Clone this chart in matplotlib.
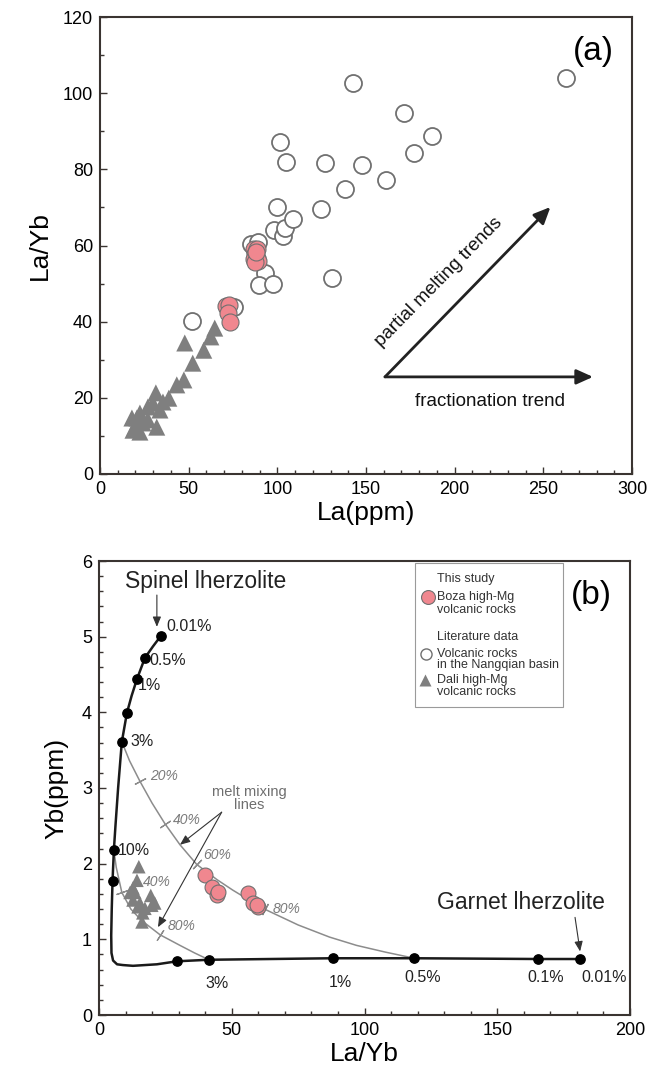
import numpy as np
import matplotlib
matplotlib.use("Agg")
import matplotlib.pyplot as plt
from matplotlib.patches import Rectangle
from matplotlib.ticker import MultipleLocator

plt.rcParams['font.family'] = ['Liberation Sans', 'DejaVu Sans']
NARROW = ['Liberation Sans Narrow', 'Liberation Sans', 'DejaVu Sans']

# ---- panel (a): La vs La/Yb ----
boza_la = [86.8, 88.5, 87.5, 86.9, 88.8, 89.2, 87.2, 88.0, 71.3, 73.0, 72.2, 73.5]
boza_lay = [59.2, 59.0, 57.8, 56.5, 56.8, 55.9, 55.6, 58.2, 44.0, 44.3, 42.3, 40.0]

lit_la = [51.8, 75.5, 85, 88.9, 92.8, 89.5, 97.4, 131, 97.9, 103, 104.1, 108.6, 99.6,
          124.4, 138.4, 101.3, 105, 126.6, 148, 161.5, 171.6, 187.4, 177, 142.4, 262.8]
lit_lay = [40.2, 43.8, 60.4, 60.9, 52.8, 49.6, 49.9, 51.4, 64.0, 62.5, 64.6, 66.9, 70.1,
           69.6, 74.8, 87.1, 81.9, 81.6, 81.1, 77.2, 94.7, 88.7, 84.2, 102.6, 103.9]

dali_la = [64.7, 62.5, 47.8, 58.5, 52.3, 47.3, 43.3, 38.8, 35.5, 31.5, 29.8, 27, 32,
           22.5, 20.8, 19.7, 18.6, 24.2, 27, 33.8, 18, 22.5]
dali_lay = [38.3, 36, 34.4, 32.5, 29.1, 24.7, 23.4, 19.9, 18.9, 21.3, 18.6, 17.6, 12.3,
            16, 14.7, 12.3, 11.5, 13.4, 14.2, 16.8, 14.7, 11]

# ---- panel (b): La/Yb vs Yb ----
boza_b_lay = [39.8, 42.5, 44.4, 44.7, 56, 57.9, 59.8, 59.4]
boza_b_yb = [1.85, 1.69, 1.59, 1.62, 1.61, 1.48, 1.43, 1.45]
dali_b_lay = [15, 14.3, 12.8, 11.7, 13.5, 19.5, 21, 12.8, 15.4, 17.3, 16.5, 16.2, 14.7, 19.9]
dali_b_yb = [1.96, 1.78, 1.68, 1.62, 1.62, 1.58, 1.48, 1.52, 1.48, 1.41, 1.35, 1.23, 1.43, 1.45]

# melting curve spinel -> garnet lherzolite
melt_lay = [23.3, 20.3, 17.3, 14.3, 12.3, 10.5, 8.6, 7.2, 6.2, 5.6, 5.1, 4.8, 4.6, 4.7,
            5.3, 6.8, 9.0, 12.8, 21.8, 29.4, 41.4, 88, 118.8, 165.4, 181.2]
melt_yb = [5.01, 4.87, 4.72, 4.44, 4.22, 3.99, 3.61, 3.0, 2.5, 2.18, 1.77, 1.4, 1.05, 0.82,
           0.72, 0.67, 0.66, 0.65, 0.67, 0.71, 0.73, 0.75, 0.75, 0.74, 0.74]

spinel_dot_lay = [23.3, 17.3, 14.3, 10.5, 8.6, 5.6, 5.1]
spinel_dot_yb = [5.01, 4.72, 4.44, 3.99, 3.61, 2.18, 1.77]
spinel_pct = ['0.01%', '0.5%', '1%', '', '3%', '10%', '']
garnet_dot_lay = [29.4, 41.4, 88, 118.8, 165.4, 181.2]
garnet_dot_yb = [0.71, 0.73, 0.75, 0.75, 0.74, 0.74]
garnet_pct = ['', '3%', '1%', '0.5%', '0.1%', '0.01%']

# melt mixing lines
mix1_lay = [8.6, 11.5, 15.4, 20.0, 24.8, 30.5, 36.8, 44.4, 50.4, 61.7, 75, 86.8, 97, 108, 118.8]
mix1_yb = [3.61, 3.36, 3.09, 2.80, 2.53, 2.25, 1.99, 1.79, 1.65, 1.41, 1.19, 1.03, 0.92, 0.83, 0.75]
mix1_tick_lay = [15.4, 24.8, 36.8, 62.5]
mix1_tick_yb = [3.09, 2.53, 1.99, 1.40]
mix1_tick_lbl = ['20%', '40%', '60%', '80%']

mix2_lay = [5.6, 6.5, 8.6, 12.0, 16.0, 23.0, 30.5, 36.0, 41.4]
mix2_yb = [2.18, 1.95, 1.62, 1.40, 1.25, 1.06, 0.92, 0.82, 0.73]
mix2_tick_lay = [8.6, 23.0]
mix2_tick_yb = [1.62, 1.06]
mix2_tick_lbl = ['40%', '80%']

PINK = '#f0878f'
GREY = '#7f7f7f'
EDGE = '#707070'
SPINE = '#3a3431'

fig = plt.figure(figsize=(6.51, 10.87), dpi=100)
ax1 = fig.add_axes([100 / 651, 1 - 474 / 1087, 532 / 651, 457 / 1087])
ax2 = fig.add_axes([99 / 651, 1 - 1015 / 1087, 531 / 651, 454 / 1087])


def style_axes(ax, xmaj, xmin, ymaj, ymin):
    for s in ax.spines.values():
        s.set_linewidth(1.5)
        s.set_color(SPINE)
    ax.xaxis.set_major_locator(MultipleLocator(xmaj))
    ax.xaxis.set_minor_locator(MultipleLocator(xmin))
    ax.yaxis.set_major_locator(MultipleLocator(ymaj))
    ax.yaxis.set_minor_locator(MultipleLocator(ymin))
    ax.tick_params(which='both', direction='in', color=SPINE, width=1)
    ax.tick_params(which='major', length=5, labelsize=13, pad=5)
    ax.tick_params(which='minor', length=3)
    for lab in ax.get_xticklabels() + ax.get_yticklabels():
        lab.set_family(NARROW)


# ---------------- panel (a) ----------------
ax1.scatter(dali_la, dali_lay, marker='^', s=150, color=GREY, edgecolors='none', zorder=3)
ax1.scatter(lit_la, lit_lay, marker='o', s=150, facecolors='white', edgecolors=EDGE,
            linewidths=1.3, zorder=3)
ax1.scatter(boza_la, boza_lay, marker='o', s=150, color=PINK, edgecolors=EDGE,
            linewidths=0.8, zorder=4)
ax1.set_xlim(0, 300)
ax1.set_ylim(0, 120)
style_axes(ax1, 50, 10, 20, 10)
ax1.set_xlabel('La(ppm)', fontsize=19, family=NARROW, labelpad=2)
ax1.set_ylabel('La/Yb', fontsize=19, family=NARROW, labelpad=8)
ax1.text(0.965, 0.925, '(a)', transform=ax1.transAxes, fontsize=24, ha='right', va='center')

arr = dict(arrowstyle='-|>,head_length=1.0,head_width=0.45', color='#222222', lw=2,
           shrinkA=0, shrinkB=0)
ax1.annotate('', xy=(254, 70.1), xytext=(160.7, 25.5), arrowprops=arr)
ax1.annotate('', xy=(278, 25.5), xytext=(160.7, 25.5), arrowprops=arr)
ax1.text(191, 50.5, 'partial melting trends', fontsize=13.5, rotation=45.5,
         rotation_mode='anchor', ha='center', va='center', color='#111111')
ax1.text(220, 19.0, 'fractionation trend', fontsize=13.5, ha='center', va='center',
         color='#111111')

# ---------------- panel (b) ----------------
ax2.set_xlim(0, 200)
ax2.set_ylim(0, 6)
style_axes(ax2, 50, 10, 1, 0.2)
ax2.set_xlabel('La/Yb', fontsize=19, family=NARROW, labelpad=2)
ax2.set_ylabel('Yb(ppm)', fontsize=19, family=NARROW, labelpad=10)

ax2.plot(mix1_lay, mix1_yb, color='#8c8c8c', lw=1.1, zorder=2)
ax2.plot(mix2_lay, mix2_yb, color='#8c8c8c', lw=1.1, zorder=2)
ax2.plot(melt_lay, melt_yb, color='#1a1a1a', lw=1.8, zorder=3)
ax2.scatter(spinel_dot_lay, spinel_dot_yb, s=45, color='black', zorder=4)
ax2.scatter(garnet_dot_lay, garnet_dot_yb, s=45, color='black', zorder=4)

# percentage labels of the melting curve
sp_off = [(4, 0.0), (3.6, -0.04), (2.2, -0.08), (0, 0), (5.2, 0.0), (3.3, 0.0), (0, 0)]
for x, y, t, (dx, dy) in zip(spinel_dot_lay, spinel_dot_yb, spinel_pct, sp_off):
    if t:
        ax2.text(x + dx - 2, y + dy + 0.13 if t == '0.01%' else y + dy, t, fontsize=11.5,
                 ha='left', va='center', color='#222222')
for x, y, t in zip(garnet_dot_lay, garnet_dot_yb, garnet_pct):
    if t:
        dy = -0.32 if t in ('3%', '1%') else -0.25
        dx = 9 if t == '0.01%' else 3
        ax2.text(x + dx, y + dy, t, fontsize=11.5, ha='center', va='center', color='#222222')


def tick_marks(ax, lx, ly, tx, ty):
    pts = ax.transData.transform(np.column_stack([lx, ly]))
    for x, y in zip(tx, ty):
        p = ax.transData.transform((x, y))
        i = int(np.argmin(np.hypot(*(pts - p).T)))
        d = pts[min(i + 1, len(pts) - 1)] - pts[max(i - 1, 0)]
        ang = np.degrees(np.arctan2(d[1], d[0]))
        ax.plot(x, y, marker=(2, 2, ang), ms=9, mew=0.9, color='#8c8c8c', zorder=2)


tick_marks(ax2, mix1_lay, mix1_yb, mix1_tick_lay, mix1_tick_yb)
tick_marks(ax2, mix2_lay, mix2_yb, mix2_tick_lay, mix2_tick_yb)
lbl1_off = [(4.0, 0.07), (3.0, 0.05), (2.3, 0.12), (3.0, 0.0)]
for x, y, t, (dx, dy) in zip(mix1_tick_lay, mix1_tick_yb, mix1_tick_lbl, lbl1_off):
    ax2.text(x + dx, y + dy, t, fontsize=10, style='italic', color='#7a7a7a',
             ha='left', va='center')
lbl2_off = [(7.9, 0.14), (3.0, 0.12)]
for x, y, t, (dx, dy) in zip(mix2_tick_lay, mix2_tick_yb, mix2_tick_lbl, lbl2_off):
    ax2.text(x + dx, y + dy, t, fontsize=10, style='italic', color='#7a7a7a',
             ha='left', va='center')

ax2.scatter(dali_b_lay, dali_b_yb, marker='^', s=95, color=GREY, edgecolors='none', zorder=5)
ax2.scatter(boza_b_lay, boza_b_yb, marker='o', s=115, color=PINK, edgecolors=EDGE,
            linewidths=0.8, zorder=6)

# melt mixing annotation
ax2.text(56.5, 2.86, 'melt mixing\nlines', fontsize=10.5, color='#6e6e6e', ha='center',
         va='center', linespacing=0.95)
arr2 = dict(arrowstyle='-|>,head_length=0.6,head_width=0.25', color='#333333', lw=0.8,
            shrinkA=0, shrinkB=0)
ax2.annotate('', xy=(30.5, 2.25), xytext=(46.2, 2.68), arrowprops=arr2)
ax2.annotate('', xy=(22.2, 1.16), xytext=(46.2, 2.68), arrowprops=arr2)

# end-member labels
ax2.text(9.8, 5.73, 'Spinel lherzolite', fontsize=16.5, ha='left', va='center', color='#222222')
ax2.annotate('', xy=(21.8, 5.13), xytext=(21.8, 5.55), arrowprops=arr2)
ax2.text(159, 1.49, 'Garnet lherzolite', fontsize=16.5, ha='center', va='center', color='#222222')
ax2.annotate('', xy=(181.2, 0.84), xytext=(179.3, 1.29), arrowprops=arr2)

ax2.text(0.965, 0.925, '(b)', transform=ax2.transAxes, fontsize=24, ha='right', va='center')

# legend box
ax2.add_patch(Rectangle((0.595, 0.678), 0.279, 0.318, transform=ax2.transAxes,
                        facecolor='white', edgecolor='#9a9a9a', lw=0.8, zorder=7))
leg_txt = [('This study', 0.960), ('Boza high-Mg', 0.921), ('volcanic rocks', 0.892),
           ('Literature data', 0.833), ('Volcanic rocks', 0.795),
           ('in the Nangqian basin', 0.771), ('Dali high-Mg', 0.738),
           ('volcanic rocks', 0.711)]
for t, y in leg_txt:
    ax2.text(0.637, y, t, transform=ax2.transAxes, fontsize=9, color='#333333',
             ha='left', va='center', zorder=8)
ax2.plot(0.62, 0.921, 'o', transform=ax2.transAxes, ms=10, color=PINK, mec=EDGE, mew=0.8,
         zorder=8, clip_on=False)
ax2.plot(0.616, 0.795, 'o', transform=ax2.transAxes, ms=8, mfc='white', mec=EDGE, mew=1,
         zorder=8, clip_on=False)
ax2.plot(0.614, 0.738, '^', transform=ax2.transAxes, ms=8.5, color=GREY, mec='none',
         zorder=8, clip_on=False)

fig.savefig('out.png', dpi=100)
